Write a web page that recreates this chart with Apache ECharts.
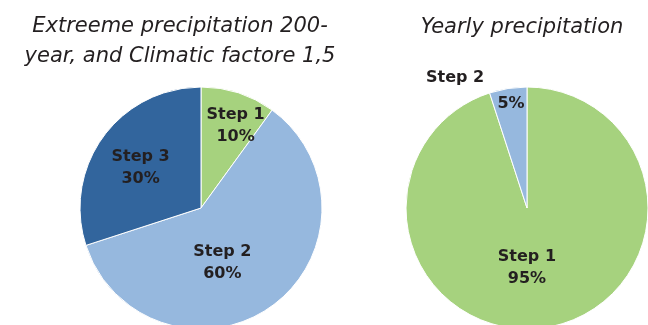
<!DOCTYPE html>
<html>
<head>
<meta charset="utf-8">
<script src="https://cdn.jsdelivr.net/npm/echarts@6/dist/echarts.min.js"></script>
<style>
html,body{margin:0;padding:0;background:#fff;}
#chart{width:648px;height:325px;}
</style>
</head>
<body>
<div id="chart"></div>
<script>
// ---- data ----
var titleLeft = 'Extreeme precipitation 200-\nyear, and Climatic factore 1,5';
var titleRight = 'Yearly precipitation';
var leftCategories = ['Step 1', 'Step 2', 'Step 3'];
var leftValues = [10, 60, 30];
var rightCategories = ['Step 1', 'Step 2'];
var rightValues = [95, 5];

// ---- styles ----
var colorsByName = { 'Step 1': '#a6d27e', 'Step 2': '#96b8de', 'Step 3': '#32659d' };
var textColor = '#231f20';
var labelFont = 'DejaVu Sans';
var R = 121;
// label nudges (px) per series / data index
var nudges = {
  0: [[15, -22], [-16, 3], [-9, -3]],
  1: [[-10, -3], [-6, -41]],
  2: [[0, 0], [-62, -67]]
};

function makeLayout(seriesIdx) {
  return function (params) {
    var d = nudges[seriesIdx][params.dataIndex];
    if (!d) return {};
    return { dx: d[0], dy: d[1] };
  };
}

function buildData(cats, vals) {
  return cats.map(function (c, i) {
    return { name: c, value: vals[i], itemStyle: { color: colorsByName[c] } };
  });
}

var baseLabel = {
  show: true,
  position: 'inside',
  color: textColor,
  fontFamily: labelFont,
  fontWeight: 'bold',
  fontSize: 16,
  lineHeight: 22
};

var chart = echarts.init(document.getElementById('chart'), null, { renderer: 'canvas' });
chart.setOption({
  backgroundColor: '#ffffff',
  animation: false,
  title: [
    {
      text: titleLeft, left: 180, top: 12, textAlign: 'center', padding: 0,
      textStyle: { fontFamily: 'DejaVu Sans', fontStyle: 'italic', fontWeight: 'normal', fontSize: 21, lineHeight: 30, color: textColor }
    },
    {
      text: titleRight, left: 522, top: 13, textAlign: 'center', padding: 0,
      textStyle: { fontFamily: 'DejaVu Sans', fontStyle: 'italic', fontWeight: 'normal', fontSize: 21, lineHeight: 30, color: textColor }
    }
  ],
  series: [
    {
      type: 'pie',
      center: [201, 208],
      radius: [0, R],
      startAngle: 90,
      clockwise: true,
      avoidLabelOverlap: false,
      itemStyle: { borderColor: '#ffffff', borderWidth: 1 },
      label: Object.assign({}, baseLabel, {
        formatter: function (p) { return p.name + '\n' + p.value + '%'; }
      }),
      labelLine: { show: false },
      labelLayout: makeLayout(0),
      emphasis: { disabled: true },
      data: buildData(leftCategories, leftValues)
    },
    {
      type: 'pie',
      center: [527, 208],
      radius: [0, R],
      startAngle: 90,
      clockwise: true,
      avoidLabelOverlap: false,
      itemStyle: { borderColor: '#ffffff', borderWidth: 1 },
      label: Object.assign({}, baseLabel, {
        formatter: function (p) { return p.dataIndex === 0 ? p.name + '\n' + p.value + '%' : p.value + '%'; }
      }),
      labelLine: { show: false },
      labelLayout: makeLayout(1),
      emphasis: { disabled: true },
      data: buildData(rightCategories, rightValues)
    },
    {
      type: 'pie',
      center: [527, 208],
      radius: [0, R],
      startAngle: 90,
      clockwise: true,
      silent: true,
      avoidLabelOverlap: false,
      itemStyle: { color: 'rgba(255,255,255,0)', borderWidth: 0 },
      label: Object.assign({}, baseLabel, {
        formatter: function (p) { return p.dataIndex === 1 ? p.name : ''; }
      }),
      labelLine: { show: false },
      labelLayout: makeLayout(2),
      emphasis: { disabled: true },
      data: rightCategories.map(function (c, i) { return { name: c, value: rightValues[i] }; })
    }
  ]
});
</script>
</body>
</html>
